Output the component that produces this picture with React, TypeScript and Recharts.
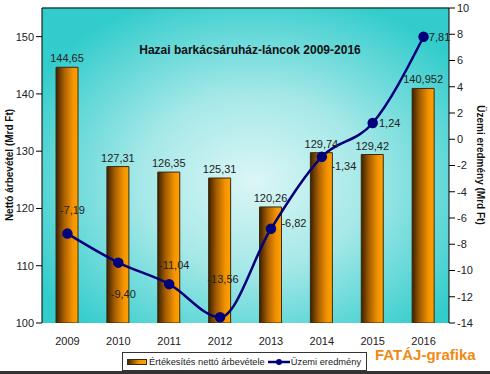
import React from "react";
import {
  ComposedChart,
  Bar,
  Line,
  XAxis,
  YAxis,
  CartesianGrid,
  LabelList,
  ReferenceLine,
} from "recharts";

const years = ["2009", "2010", "2011", "2012", "2013", "2014", "2015", "2016"];
const revenue = [144.65, 127.31, 126.35, 125.31, 120.26, 129.74, 129.42, 140.952];
const result = [-7.19, -9.4, -11.04, -13.56, -6.82, -1.34, 1.24, 7.81];
const leftTicks = [100, 110, 120, 130, 140, 150];
const rightTicks = [-14, -12, -10, -8, -6, -4, -2, 0, 2, 4, 6, 8, 10];
const boundaryTicks = [0, 1, 2, 3, 4, 5, 6, 7, 8];

// label offsets for the line values (dx, dy from the dot)
const lineLabelOffsets = [
  [5, -24],
  [5, 31],
  [5, -19],
  [3, -38],
  [23, -6],
  [22, 9],
  [17, 0],
  [16, 0],
];

const data = years.map((year, i) => ({
  year,
  revenue: revenue[i],
  result: result[i],
}));

const font = "'Liberation Sans', Arial, sans-serif";
const fmt = (v: number) => String(v).replace(".", ",");
const fmt2 = (v: number) => v.toFixed(2).replace(".", ",");

const LineValueLabel = (props: any) => {
  const { x, y, value, index } = props;
  const [dx, dy] = lineLabelOffsets[index] || [0, -10];
  return (
    <text
      x={x + dx}
      y={y + dy}
      textAnchor="middle"
      dominantBaseline="central"
      fontSize={11}
      fontFamily={font}
      fill="#222"
    >
      {fmt2(value)}
    </text>
  );
};

export default function App() {
  return (
    <div
      style={{
        position: "absolute",
        top: 0,
        left: 0,
        width: 490,
        height: 374,
        background: "#fff",
        fontFamily: font,
        overflow: "hidden",
      }}
    >
      <ComposedChart
        width={490}
        height={374}
        data={data}
        margin={{ top: 8, right: 0, bottom: 21, left: 0 }}
      >
        <defs>
          <radialGradient id="bg" cx="52%" cy="55%" r="62%">
            <stop offset="0%" stopColor="#dcf6f6" />
            <stop offset="45%" stopColor="#a6e8e8" />
            <stop offset="100%" stopColor="#33cccc" />
          </radialGradient>
          <linearGradient id="barFill" x1="0" y1="0" x2="1" y2="0">
            <stop offset="0%" stopColor="#3a2000" />
            <stop offset="35%" stopColor="#a45c00" />
            <stop offset="75%" stopColor="#f39200" />
            <stop offset="100%" stopColor="#ffa200" />
          </linearGradient>
        </defs>
        <CartesianGrid
          horizontal={false}
          vertical={false}
          fill="url(#bg)"
          fillOpacity={1}
        />
        <XAxis
          xAxisId="b"
          type="number"
          domain={[0, 8]}
          ticks={boundaryTicks}
          height={0}
          tickSize={5}
          tickFormatter={() => ""}
          stroke="#000"
        />
        <XAxis
          dataKey="year"
          height={30}
          axisLine={false}
          tickLine={false}
          tick={{ fontSize: 11, fill: "#222", fontFamily: font }}
          tickMargin={8}
        />
        <YAxis
          yAxisId="left"
          domain={[100, 155]}
          ticks={leftTicks}
          width={42}
          tickSize={6}
          stroke="#000"
          tick={{ fontSize: 11, fill: "#222", fontFamily: font }}
          allowDataOverflow
        />
        <YAxis
          yAxisId="right"
          orientation="right"
          domain={[-14, 10]}
          ticks={rightTicks}
          width={41}
          tickSize={6}
          stroke="#000"
          tick={{ fontSize: 11, fill: "#222", fontFamily: font }}
          allowDataOverflow
        />
        <ReferenceLine yAxisId="left" y={155} stroke="#1b4d3e" strokeWidth={1.5} />
        <Bar
          yAxisId="left"
          dataKey="revenue"
          barSize={22}
          fill="url(#barFill)"
          stroke="#3a2a10"
          strokeWidth={1}
          isAnimationActive={false}
        >
          <LabelList
            dataKey="revenue"
            position="top"
            offset={5}
            formatter={(v: any) => fmt(v)}
            style={{ fontSize: 11, fill: "#222", fontFamily: font }}
          />
        </Bar>
        <Line
          yAxisId="right"
          type="monotone"
          dataKey="result"
          stroke="#00007a"
          strokeWidth={2.5}
          dot={{ r: 4, fill: "#00007a", stroke: "#00007a" }}
          isAnimationActive={false}
        >
          <LabelList dataKey="result" content={LineValueLabel} />
        </Line>
      </ComposedChart>

      <div
        style={{
          position: "absolute",
          top: 43,
          left: 0,
          width: 500,
          textAlign: "center",
          fontSize: 12,
          fontWeight: "bold",
          color: "#111",
        }}
      >
        Hazai barkácsáruház-láncok 2009-2016
      </div>

      <div
        style={{
          position: "absolute",
          left: 9,
          top: 165,
          transform: "translate(-50%, -50%) rotate(-90deg)",
          fontSize: 10,
          fontWeight: "bold",
          whiteSpace: "nowrap",
          color: "#111",
        }}
      >
        Nettó árbevétel (Mrd Ft)
      </div>
      <div
        style={{
          position: "absolute",
          left: 480,
          top: 165,
          transform: "translate(-50%, -50%) rotate(90deg)",
          fontSize: 10,
          fontWeight: "bold",
          whiteSpace: "nowrap",
          color: "#111",
        }}
      >
        Üzemi eredmény (Mrd Ft)
      </div>

      <div
        style={{
          position: "absolute",
          left: 122,
          top: 352,
          width: 245,
          height: 19,
          border: "1px solid #333",
          background: "#fff",
          display: "flex",
          alignItems: "center",
          fontSize: 9.3,
          color: "#222",
          boxSizing: "border-box",
          paddingLeft: 4,
          whiteSpace: "nowrap",
          overflow: "hidden",
        }}
      >
        <svg width={20} height={6} style={{ marginRight: 2, flexShrink: 0 }}>
          <defs>
            <linearGradient id="legBar" x1="0" y1="0" x2="1" y2="0">
              <stop offset="0%" stopColor="#3a2000" />
              <stop offset="60%" stopColor="#f39200" />
              <stop offset="100%" stopColor="#ffa200" />
            </linearGradient>
          </defs>
          <rect x={0.5} y={0.5} width={19} height={5} fill="url(#legBar)" stroke="#3a2a10" />
        </svg>
        <span>Értékesítés nettó árbevétele</span>
        <svg width={22} height={10} style={{ marginLeft: 3, marginRight: 1, flexShrink: 0 }}>
          <line x1={0} y1={5} x2={22} y2={5} stroke="#00007a" strokeWidth={2.5} />
          <circle cx={11} cy={5} r={3} fill="#00007a" />
        </svg>
        <span>Üzemi eredmény</span>
      </div>

      <div
        style={{
          position: "absolute",
          left: 375,
          top: 346,
          fontSize: 15,
          fontWeight: "bold",
          color: "#f08a14",
          whiteSpace: "nowrap",
        }}
      >
        FATÁJ-grafika
      </div>

      <div
        style={{
          position: "absolute",
          left: 0,
          top: 371,
          width: 490,
          height: 3,
          background: "#333",
        }}
      />
    </div>
  );
}
